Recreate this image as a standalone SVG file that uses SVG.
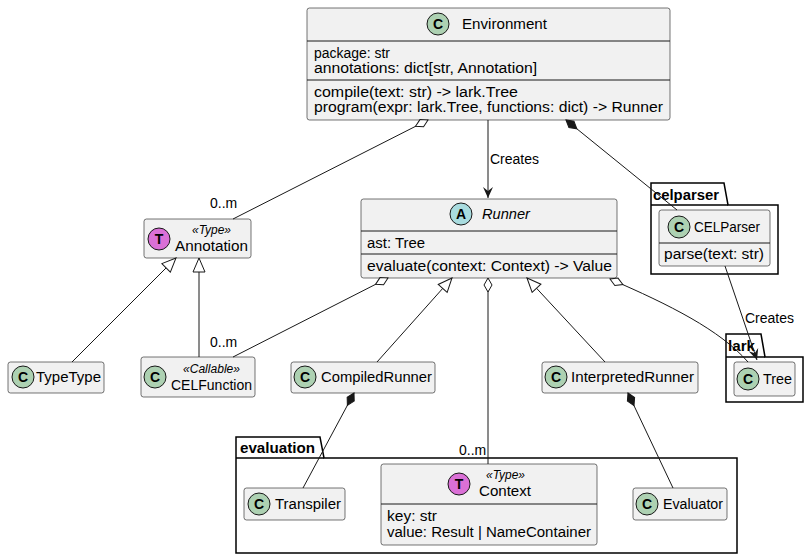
<svg xmlns="http://www.w3.org/2000/svg" width="809" height="559" viewBox="0 0 809 559">
<style>
.b{fill:#F1F1F1;stroke:#181818;stroke-width:0.6}
.p{fill:none;stroke:#000;stroke-width:1.5}
.t{font-family:"Liberation Sans",Arial,sans-serif;font-size:14px;fill:#000}
.s{font-family:"Liberation Sans",Arial,sans-serif;font-size:12px;font-style:italic;fill:#000}
.pk{font-family:"Liberation Sans",Arial,sans-serif;font-size:14px;font-weight:bold;fill:#000}
.l{stroke:#181818;stroke-width:1;fill:none}
.c{stroke:#181818;stroke-width:1}
.ci{font-family:"Liberation Sans",Arial,sans-serif;font-size:14px;font-weight:bold;fill:#000;text-anchor:middle}
</style>
<defs>
<marker id="arr" viewBox="0 0 12 12" refX="11" refY="6" markerWidth="12" markerHeight="12" orient="auto" markerUnits="userSpaceOnUse"><path d="M0,1 L11,6 L0,11 L4,6 Z" fill="#181818"/></marker>
<marker id="tri" viewBox="0 0 16 14" refX="15" refY="7" markerWidth="16" markerHeight="14" orient="auto-start-reverse" markerUnits="userSpaceOnUse"><path d="M15,7 L1,1 L1,13 Z" fill="#fff" stroke="#181818"/></marker>
<marker id="od" viewBox="0 0 16 10" refX="15" refY="5" markerWidth="16" markerHeight="10" orient="auto-start-reverse" markerUnits="userSpaceOnUse"><path d="M15,5 L8,1 L1,5 L8,9 Z" fill="#fff" stroke="#181818"/></marker>
<marker id="fd" viewBox="0 0 16 10" refX="15" refY="5" markerWidth="16" markerHeight="10" orient="auto-start-reverse" markerUnits="userSpaceOnUse"><path d="M15,5 L8,1 L1,5 L8,9 Z" fill="#181818" stroke="#181818"/></marker>
</defs>

<g id="pkg-celparser"><path class="p" d="M651,274 V183 H724 L728,205 H778 V274 Z"/><line class="p" x1="651" y1="205" x2="728" y2="205"/><text class="pk" x="653" y="200" textLength="66" lengthAdjust="spacingAndGlyphs">celparser</text></g>
<g id="pkg-lark"><path class="p" d="M726,402 V334 H761 L765,357 H803 V402 Z"/><line class="p" x1="726" y1="357" x2="765" y2="357"/><text class="pk" x="728" y="351" textLength="27" lengthAdjust="spacingAndGlyphs">lark</text></g>
<g id="pkg-evaluation"><path class="p" d="M236,553 V437 H320 L324,458 H737 V553 Z"/><line class="p" x1="236" y1="458" x2="324" y2="458"/><text class="pk" x="240" y="453" textLength="75" lengthAdjust="spacingAndGlyphs">evaluation</text></g>

<g id="Environment"><rect class="b" x="307" y="8" width="363" height="112" rx="2.5"/>
<circle cx="438" cy="24" r="11" fill="#ADD1B2" class="c"/><text class="ci" x="438" y="29">C</text>
<text class="t" x="462" y="29" textLength="85" lengthAdjust="spacingAndGlyphs">Environment</text>
<line class="l" x1="307" y1="41" x2="670" y2="41"/>
<text class="t" x="314" y="58" textLength="76" lengthAdjust="spacingAndGlyphs">package: str</text>
<text class="t" x="314" y="73" textLength="223" lengthAdjust="spacingAndGlyphs">annotations: dict[str, Annotation]</text>
<line class="l" x1="307" y1="80" x2="670" y2="80"/>
<text class="t" x="314" y="97" textLength="204" lengthAdjust="spacingAndGlyphs">compile(text: str) -&gt; lark.Tree</text>
<text class="t" x="314" y="112" textLength="349" lengthAdjust="spacingAndGlyphs">program(expr: lark.Tree, functions: dict) -&gt; Runner</text></g>

<g id="Runner"><rect class="b" x="361" y="199" width="256" height="79" rx="2.5"/>
<circle cx="461" cy="214" r="11" fill="#A9DCDF" class="c"/><text class="ci" x="461" y="219">A</text>
<text class="t" x="482" y="219" font-style="italic" textLength="48" lengthAdjust="spacingAndGlyphs">Runner</text>
<line class="l" x1="361" y1="231" x2="617" y2="231"/>
<text class="t" x="367" y="248" textLength="58" lengthAdjust="spacingAndGlyphs">ast: Tree</text>
<line class="l" x1="361" y1="254" x2="617" y2="254"/>
<text class="t" x="367" y="271" textLength="245" lengthAdjust="spacingAndGlyphs">evaluate(context: Context) -&gt; Value</text></g>

<g id="Annotation"><rect class="b" x="144" y="219" width="107" height="39" rx="2.5"/>
<circle cx="159" cy="239" r="11" fill="#DA70D6" class="c"/><text class="ci" x="159" y="244">T</text>
<text class="s" x="192" y="234" textLength="39" lengthAdjust="spacingAndGlyphs">«Type»</text>
<text class="t" x="175" y="251" textLength="73" lengthAdjust="spacingAndGlyphs">Annotation</text></g>

<g id="TypeType"><rect class="b" x="8" y="362" width="96" height="31" rx="2.5"/>
<circle cx="23" cy="377" r="11" fill="#ADD1B2" class="c"/><text class="ci" x="23" y="382">C</text>
<text class="t" x="36" y="382" textLength="65" lengthAdjust="spacingAndGlyphs">TypeType</text></g>

<g id="CELFunction"><rect class="b" x="141" y="357" width="114" height="40" rx="2.5"/>
<circle cx="155" cy="377" r="11" fill="#ADD1B2" class="c"/><text class="ci" x="155" y="382">C</text>
<text class="s" x="183" y="373" textLength="57" lengthAdjust="spacingAndGlyphs">«Callable»</text>
<text class="t" x="171" y="390" textLength="81" lengthAdjust="spacingAndGlyphs">CELFunction</text></g>

<g id="CompiledRunner"><rect class="b" x="291" y="362" width="144" height="31" rx="2.5"/>
<circle cx="305" cy="377" r="11" fill="#ADD1B2" class="c"/><text class="ci" x="305" y="382">C</text>
<text class="t" x="321" y="382" textLength="111" lengthAdjust="spacingAndGlyphs">CompiledRunner</text></g>

<g id="InterpretedRunner"><rect class="b" x="542" y="362" width="156" height="31" rx="2.5"/>
<circle cx="556" cy="377" r="11" fill="#ADD1B2" class="c"/><text class="ci" x="556" y="382">C</text>
<text class="t" x="571" y="382" textLength="123" lengthAdjust="spacingAndGlyphs">InterpretedRunner</text></g>

<g id="CELParser"><rect class="b" x="659" y="210" width="111" height="56" rx="2.5"/>
<circle cx="679" cy="227" r="11" fill="#ADD1B2" class="c"/><text class="ci" x="679" y="232">C</text>
<text class="t" x="694" y="232" textLength="66" lengthAdjust="spacingAndGlyphs">CELParser</text>
<line class="l" x1="659" y1="243" x2="770" y2="243"/>
<text class="t" x="664" y="259" textLength="100" lengthAdjust="spacingAndGlyphs">parse(text: str)</text></g>

<g id="Tree"><rect class="b" x="734" y="362" width="61" height="34" rx="2.5"/>
<circle cx="748" cy="379" r="11" fill="#ADD1B2" class="c"/><text class="ci" x="748" y="384">C</text>
<text class="t" x="763" y="384" textLength="29" lengthAdjust="spacingAndGlyphs">Tree</text></g>

<g id="Transpiler"><rect class="b" x="244" y="488" width="101" height="32" rx="2.5"/>
<circle cx="255" cy="504" r="11" fill="#ADD1B2" class="c" transform="translate(4 0)"/><text class="ci" x="259" y="509">C</text>
<text class="t" x="275" y="509" textLength="66" lengthAdjust="spacingAndGlyphs">Transpiler</text></g>

<g id="Context"><rect class="b" x="381" y="464" width="216" height="81" rx="2.5"/>
<circle cx="459" cy="484" r="11" fill="#DA70D6" class="c"/><text class="ci" x="459" y="489">T</text>
<text class="s" x="486" y="479" textLength="39" lengthAdjust="spacingAndGlyphs">«Type»</text>
<text class="t" x="479" y="496" textLength="52" lengthAdjust="spacingAndGlyphs">Context</text>
<line class="l" x1="381" y1="504" x2="597" y2="504"/>
<text class="t" x="387" y="521" textLength="50" lengthAdjust="spacingAndGlyphs">key: str</text>
<text class="t" x="387" y="537" textLength="204" lengthAdjust="spacingAndGlyphs">value: Result | NameContainer</text></g>

<g id="Evaluator"><rect class="b" x="633" y="488" width="94" height="32" rx="2.5"/>
<circle cx="647" cy="504" r="11" fill="#ADD1B2" class="c"/><text class="ci" x="647" y="509">C</text>
<text class="t" x="663" y="509" textLength="60" lengthAdjust="spacingAndGlyphs">Evaluator</text></g>

<g id="connectors">
<line class="l" x1="488" y1="120" x2="488" y2="198" marker-end="url(#arr)"/>
<text class="t" x="490" y="164">Creates</text>
<line class="l" x1="428" y1="120" x2="233" y2="219" marker-start="url(#od)"/>
<text class="t" x="210" y="208">0..m</text>
<line class="l" x1="566" y1="120" x2="677" y2="210" marker-start="url(#fd)"/>
<line class="l" x1="176" y1="258" x2="72" y2="362" marker-start="url(#tri)"/>
<line class="l" x1="199" y1="258" x2="199" y2="357" marker-start="url(#tri)"/>
<line class="l" x1="388" y1="278" x2="233" y2="357" marker-start="url(#od)"/>
<text class="t" x="210" y="347">0..m</text>
<line class="l" x1="452" y1="278" x2="377" y2="362" marker-start="url(#tri)"/>
<line class="l" x1="488" y1="278" x2="488" y2="464" marker-start="url(#od)"/>
<text class="t" x="459" y="455">0..m</text>
<line class="l" x1="527" y1="278" x2="605" y2="362" marker-start="url(#tri)"/>
<path class="l" d="M610,279 C670,305 720,330 748,362" marker-start="url(#od)"/>
<line class="l" x1="725" y1="266" x2="757" y2="360" marker-end="url(#arr)"/>
<text class="t" x="745" y="323">Creates</text>
<line class="l" x1="354" y1="393" x2="303" y2="488" marker-start="url(#fd)"/>
<line class="l" x1="628" y1="393" x2="673" y2="488" marker-start="url(#fd)"/>
</g>
</svg>
